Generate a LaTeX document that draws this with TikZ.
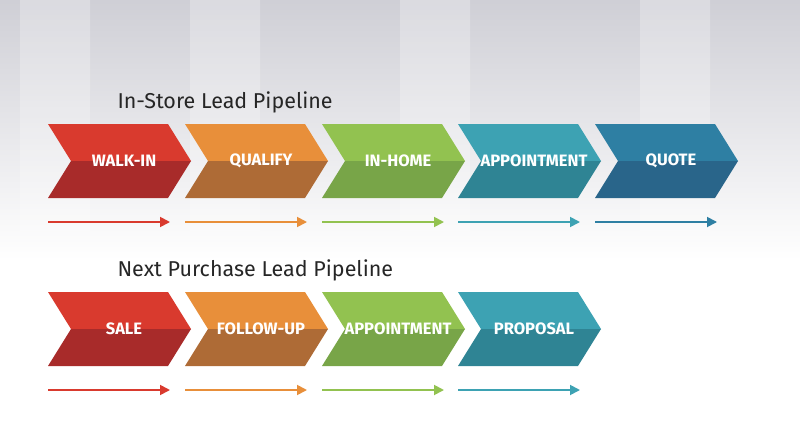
\documentclass[tikz,border=0pt]{standalone}
\usepackage{fontspec}
\setmainfont{Fira Sans}
\usetikzlibrary{arrows.meta}
\definecolor{c1a}{HTML}{D93A2E}\definecolor{c1b}{HTML}{A82B2A}
\definecolor{c2a}{HTML}{E88F3A}\definecolor{c2b}{HTML}{AE6B36}
\definecolor{c3a}{HTML}{92C250}\definecolor{c3b}{HTML}{78A548}
\definecolor{c4a}{HTML}{3DA2B3}\definecolor{c4b}{HTML}{2F8494}
\definecolor{c5a}{HTML}{2E7FA3}\definecolor{c5b}{HTML}{29658A}
\tikzset{lab/.style={text=white,font=\bfseries\fontsize{16.5}{18}\selectfont},
 ttl/.style={anchor=west,font=\fontsize{21.5}{24}\selectfont,text=black!85},
 flow/.style={line width=1.8pt,-{Triangle[length=10pt,width=10pt]}}}
\newcommand{\chev}[5]{% x, ytop, color, text, name
 \fill[#3a] (#1,#2) -- (#1+120,#2) -- (#1+143,#2+37) -- (#1+23,#2+37) -- cycle;
 \fill[#3b] (#1+23,#2+37) -- (#1+143,#2+37) -- (#1+120,#2+74) -- (#1,#2+74) -- cycle;
 \node[lab] (#5) at (#1+76,#2+37) {#4};
 \coordinate (#5s) at (#1,#2+98);
 \coordinate (#5e) at (#1+122,#2+98);
 \draw[flow,#3a] (#5s) -- (#5e);}
\begin{document}
\begin{tikzpicture}[x=1pt,y=-1pt]
\useasboundingbox (0,0) rectangle (800,444);
\shade[top color=black!5!blue!8!gray!35, bottom color=white] (0,0) rectangle (800,260);
\foreach \px in {20,190,400,640}{
 \shade[left color=white, right color=white, middle color=white, opacity=0.25] (\px,0) rectangle (\px+70,230);}
\node[ttl] (t1) at (114,102) {In-Store Lead Pipeline};
\node[ttl] (t2) at (114,270) {Next Purchase Lead Pipeline};
\chev{48}{124}{c1}{WALK-IN}{a1}
\chev{185}{124}{c2}{QUALIFY}{a2}
\chev{322}{124}{c3}{IN-HOME}{a3}
\chev{458}{124}{c4}{APPOINTMENT}{a4}
\chev{595}{124}{c5}{QUOTE}{a5}
\chev{48}{292}{c1}{SALE}{b1}
\chev{185}{292}{c2}{FOLLOW-UP}{b2}
\chev{322}{292}{c3}{APPOINTMENT}{b3}
\chev{458}{292}{c4}{PROPOSAL}{b4}
\end{tikzpicture}
\end{document}
